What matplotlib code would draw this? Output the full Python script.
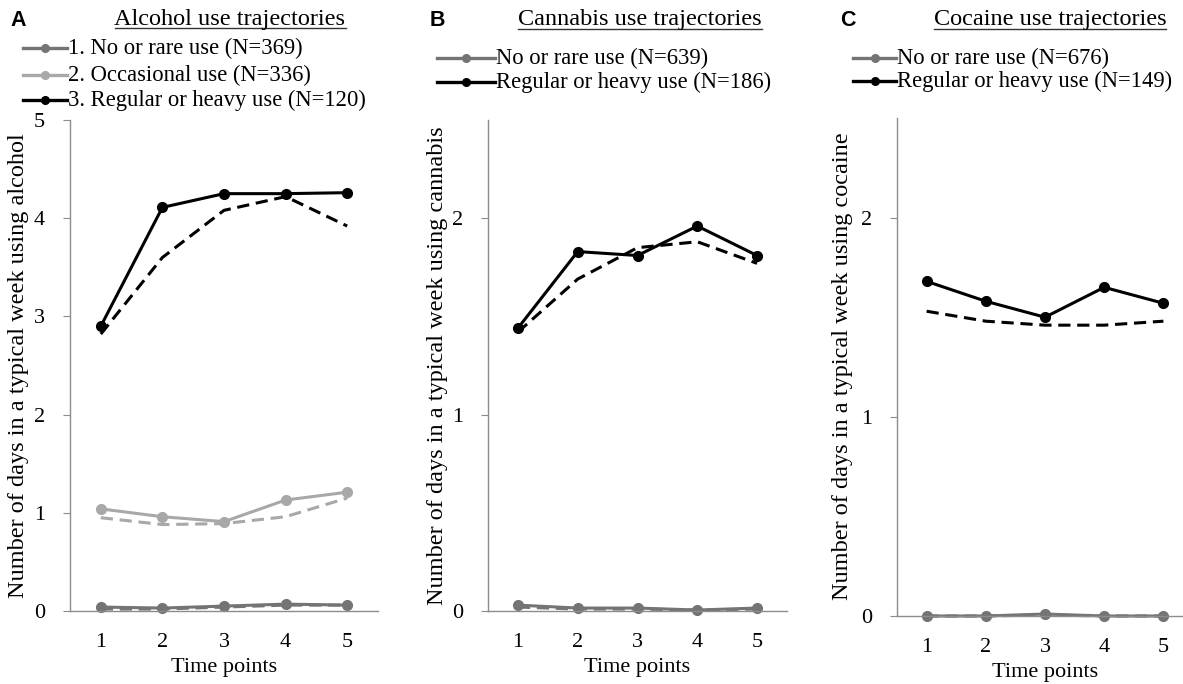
import numpy as np
import matplotlib
matplotlib.use("Agg")
import matplotlib.pyplot as plt
from matplotlib.lines import Line2D

plt.rcParams['font.family'] = ['Liberation Serif', 'DejaVu Serif']

# -----------------------------
# Data
# -----------------------------
time_points = [1, 2, 3, 4, 5]

alc_rare = [0.04, 0.03, 0.05, 0.07, 0.06]
alc_rare_est = [0.02, 0.02, 0.04, 0.06, 0.06]
alc_occ = [1.04, 0.96, 0.91, 1.13, 1.21]
alc_occ_est = [0.95, 0.88, 0.89, 0.96, 1.15]
alc_heavy = [2.90, 4.11, 4.25, 4.25, 4.26]
alc_heavy_est = [2.82, 3.60, 4.08, 4.22, 3.92]

can_rare = [0.03, 0.015, 0.015, 0.005, 0.015]
can_rare_est = [0.02, 0.01, 0.01, 0.005, 0.01]
can_heavy = [1.44, 1.83, 1.81, 1.96, 1.81]
can_heavy_est = [1.42, 1.69, 1.85, 1.88, 1.77]

coc_rare = [0.0, 0.0, 0.01, 0.0, 0.0]
coc_rare_est = [0.0, 0.0, 0.005, 0.0, 0.0]
coc_heavy = [1.68, 1.58, 1.50, 1.65, 1.57]
coc_heavy_est = [1.53, 1.48, 1.46, 1.46, 1.48]

alc_labels = ["1. No or rare use (N=369)", "2. Occasional use (N=336)",
              "3. Regular or heavy use (N=120)"]
can_labels = ["No or rare use (N=639)", "Regular or heavy use (N=186)"]
coc_labels = ["No or rare use (N=676)", "Regular or heavy use (N=149)"]

C_RARE = '#747474'
C_OCC = '#a8a8a8'
C_HEAVY = '#000000'
C_AXIS = '#8c8c8c'

W, H = 1183, 684
fig = plt.figure(figsize=(W / 100, H / 100), dpi=100)


def px(x, y):
    # pixel (from top-left) -> figure fraction
    return x / W, 1 - y / H


def make_axes(x0, x1, ytop, ybot, ymax, yticks):
    l, b = px(x0, ybot)
    r, t = px(x1, ytop)
    ax = fig.add_axes([l, b, r - l, t - b])
    ax.set_xlim(0.5, 5.5)
    ax.set_ylim(0, ymax)
    ax.set_xticks(time_points)
    ax.set_yticks(yticks)
    for s in ['top', 'right']:
        ax.spines[s].set_visible(False)
    for s in ['left', 'bottom']:
        ax.spines[s].set_color(C_AXIS)
        ax.spines[s].set_linewidth(1.0)
    ax.tick_params(axis='x', length=0, pad=16, labelsize=16)
    ax.tick_params(axis='y', length=5, color=C_AXIS, pad=13, labelsize=16)
    ax.set_xlabel("Time points", fontsize=16, labelpad=4)
    return ax


def plot_series(ax, obs, est, color, lw=2.2):
    ax.plot(time_points, est, color=color, lw=lw, ls=(0, (4, 2.2)), clip_on=False)
    ax.plot(time_points, obs, color=color, lw=lw, marker='o', ms=7, clip_on=False)


def legend_rows(x0, x1, rows, labels, colors):
    for y, lab, col in zip(rows, labels, colors):
        fx0, fy = px(x0, y)
        fx1, _ = px(x1, y)
        fig.add_artist(Line2D([fx0, fx1], [fy, fy], color=col, lw=2.4,
                              transform=fig.transFigure))
        fig.add_artist(Line2D([(fx0 + fx1) / 2], [fy], color=col, marker='o', ms=5.5,
                              transform=fig.transFigure))
        fig.text(fx1 + 1 / W, fy, lab, fontsize=16.3, va='center', ha='left')


titles = []


def title(xc, y, text):
    fx, fy = px(xc, y)
    t = fig.text(fx, fy, text, fontsize=17.5, ha='center', va='center')
    titles.append(t)


def letter(x, y, text):
    fx, fy = px(x, y)
    fig.text(fx, fy, text, fontsize=15.5, ha='left', va='center',
             family='Liberation Sans', weight='bold')


def ylabel(x, y, text):
    fx, fy = px(x, y)
    fig.text(fx, fy, text, fontsize=17.5, rotation=90, ha='center', va='center')


# -----------------------------
# A: Alcohol
# -----------------------------
axA = make_axes(70, 378, 120, 611, 5, [0, 1, 2, 3, 4, 5])
plot_series(axA, alc_rare, alc_rare_est, C_RARE)
plot_series(axA, alc_occ, alc_occ_est, C_OCC)
plot_series(axA, alc_heavy, alc_heavy_est, C_HEAVY)
letter(10, 21, "A")
title(230, 19, "Alcohol use trajectories")
legend_rows(23, 67, [48, 75, 100], alc_labels, [C_RARE, C_OCC, C_HEAVY])
ylabel(19, 366, "Number of days in a typical week using alcohol")

# -----------------------------
# B: Cannabis
# -----------------------------
axB = make_axes(488, 787, 120, 611, 2.5, [0, 1, 2])
plot_series(axB, can_rare, can_rare_est, C_RARE)
plot_series(axB, can_heavy, can_heavy_est, C_HEAVY)
letter(430, 20, "B")
title(640, 20, "Cannabis use trajectories")
legend_rows(437, 495, [58, 82], can_labels, [C_RARE, C_HEAVY])
ylabel(438, 366, "Number of days in a typical week using cannabis")

# -----------------------------
# C: Cocaine
# -----------------------------
axC = make_axes(897, 1193, 118, 616, 2.5, [0, 1, 2])
plot_series(axC, coc_rare, coc_rare_est, C_RARE)
plot_series(axC, coc_heavy, coc_heavy_est, C_HEAVY)
letter(840, 20, "C")
title(1050, 20, "Cocaine use trajectories")
legend_rows(853, 896, [58, 81], coc_labels, [C_RARE, C_HEAVY])
ylabel(842, 366, "Number of days in a typical week using cocaine")

# underline the panel titles
fig.canvas.draw()
renderer = fig.canvas.get_renderer()
for t in titles:
    bb = t.get_window_extent(renderer)
    yline = bb.y0 + 2
    fig.add_artist(Line2D([bb.x0 / W, bb.x1 / W], [yline / H, yline / H],
                          color='#333333', lw=1.0, transform=fig.transFigure))

fig.savefig("out.png", dpi=100)
